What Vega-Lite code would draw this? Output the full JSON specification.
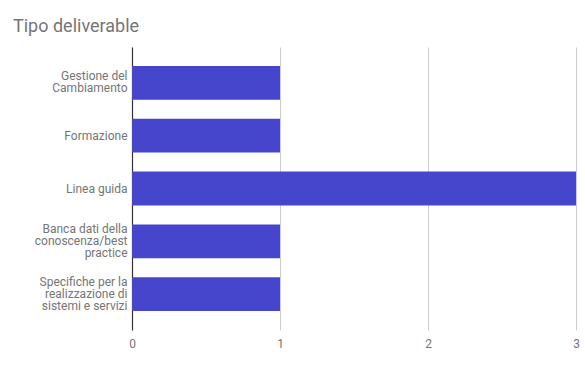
{
  "$schema": "https://vega.github.io/schema/vega-lite/v6.json",
  "width": 444,
  "height": 283,
  "autosize": "none",
  "padding": {"left": 132, "top": 47, "right": 9, "bottom": 35},
  "background": "white",
  "config": {"view": {"stroke": null}, "font": "Roboto"},
  "title": {
    "text": "Tipo deliverable",
    "anchor": "start",
    "frame": "group",
    "dx": -119,
    "offset": 11,
    "fontSize": 18,
    "fontWeight": "normal",
    "color": "#757575",
    "font": "Roboto"
  },
  "data": {
    "values": [
      {"tipo": "Gestione del\nCambiamento", "n": 1},
      {"tipo": "Formazione", "n": 1},
      {"tipo": "Linea guida", "n": 3},
      {"tipo": "Banca dati della\nconoscenza/best\npractice", "n": 1},
      {"tipo": "Specifiche per la\nrealizzazione di\nsistemi e servizi", "n": 1}
    ]
  },
  "mark": {"type": "bar", "color": "#4646cc"},
  "encoding": {
    "y": {
      "field": "tipo",
      "type": "nominal",
      "sort": null,
      "scale": {"paddingInner": 0.36, "paddingOuter": 0.36},
      "axis": {
        "title": null,
        "labelExpr": "split(datum.label, '\\n')",
        "labelFont": "Roboto",
        "labelFontSize": 12,
        "labelColor": "#757575",
        "labelLineHeight": 12,
        "labelPadding": 5,
        "labelOffset": {
          "condition": [
            {"test": "length(split(datum.label, '\\n')) == 2", "value": -7},
            {"test": "length(split(datum.label, '\\n')) == 3", "value": -12}
          ],
          "value": 0
        },
        "ticks": false,
        "domain": true,
        "domainColor": "#333333",
        "domainWidth": 1.2,
        "labelLimit": 200
      }
    },
    "x": {
      "field": "n",
      "type": "quantitative",
      "scale": {"domain": [0, 3], "nice": false},
      "axis": {
        "title": null,
        "values": [0, 1, 2, 3],
        "format": "d",
        "labelFont": "Roboto",
        "labelFontSize": 12,
        "labelColor": "#757575",
        "labelPadding": 8,
        "ticks": false,
        "domain": false,
        "grid": true,
        "gridColor": "#cccccc",
        "labelFlush": false
      }
    }
  }
}
